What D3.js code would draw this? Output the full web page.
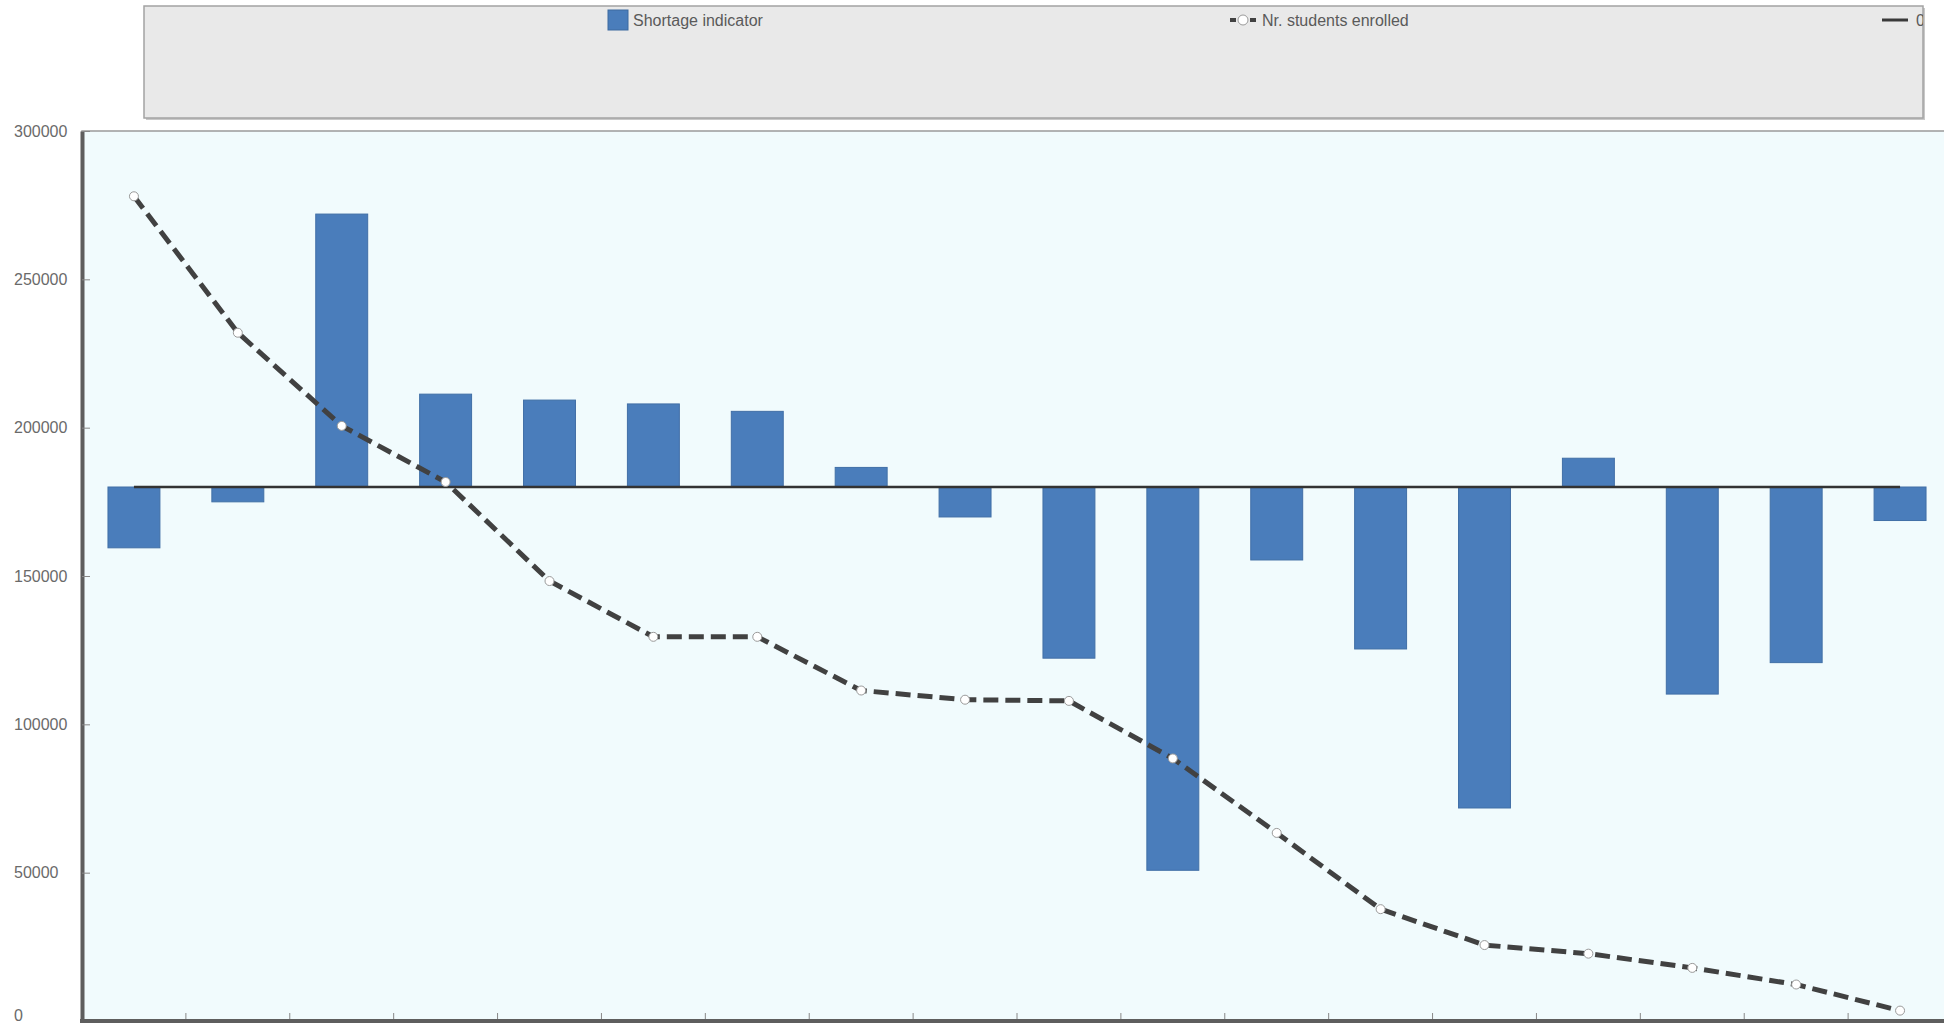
<!DOCTYPE html>
<html>
<head>
<meta charset="utf-8">
<script src="https://cdn.jsdelivr.net/npm/d3@7"></script>
<style>
  body { margin: 0; background: #fff; overflow: hidden; }
  svg { display: block; }
</style>
</head>
<body>
<svg id="chart"></svg>
<script>
// categories (no labels are shown on the x axis)
const categories = ["1", "2", "3", "4", "5", "6", "7", "8", "9", "10", "11", "12", "13", "14", "15", "16", "17", "18"];

// shortage indicator bars, drawn from the zero line (which sits at 180000 on the left axis)
const baseline = 180000;
const shortageEnds = [159500, 175000, 272000, 211300, 209300, 208000, 205500, 186600, 169900,
                      122300, 50800, 155400, 125400, 71800, 189700, 110200, 120800, 168700];

// Nr. students enrolled
const enrolled = [278000, 232000, 200600, 181700, 148300, 129500, 129500, 111400, 108300,
                  107900, 88500, 63400, 37700, 25600, 22700, 17900, 12300, 3500];

// third series "0"
const zeroSeries = [180000, 180000, 180000, 180000, 180000, 180000, 180000, 180000, 180000,
                    180000, 180000, 180000, 180000, 180000, 180000, 180000, 180000, 180000];

const yTicks = [0, 50000, 100000, 150000, 200000, 250000, 300000];
const legendLabels = ["Shortage indicator", "Nr. students enrolled", "0"];

const W = 1944, H = 1027;
const plot = { left: 82, top: 131, right: 1952, bottom: 1021 };

const svg = d3.select("#chart").attr("width", W).attr("height", H);

const x = d3.scaleBand()
    .domain(categories)
    .range([plot.left, plot.right])
    .paddingInner(0.5)
    .paddingOuter(0.25);

const y = d3.scaleLinear()
    .domain([0, 300000])
    .range([plot.bottom, plot.top]);

// plot background
svg.append("rect")
    .attr("x", plot.left).attr("y", plot.top)
    .attr("width", plot.right - plot.left).attr("height", plot.bottom - plot.top)
    .attr("fill", "#f1fbfd")
    .attr("stroke", "#9a9a9a")
    .attr("stroke-width", 1.5);

// bars
svg.append("g")
    .selectAll("rect")
    .data(shortageEnds)
    .join("rect")
    .attr("x", (d, i) => x(categories[i]))
    .attr("width", x.bandwidth())
    .attr("y", d => y(Math.max(d, baseline)))
    .attr("height", d => Math.abs(y(d) - y(baseline)))
    .attr("fill", "#4a7dbb")
    .attr("stroke", "#416fa6")
    .attr("stroke-width", 1);

// zero line series
const cx = (d, i) => x(categories[i]) + x.bandwidth() / 2;
svg.append("path")
    .datum(zeroSeries)
    .attr("fill", "none")
    .attr("stroke", "#333")
    .attr("stroke-width", 2.5)
    .attr("d", d3.line().x(cx).y(d => y(d)));

// enrolled, dashed line with markers
svg.append("path")
    .datum(enrolled)
    .attr("fill", "none")
    .attr("stroke", "#414141")
    .attr("stroke-width", 5)
    .attr("stroke-dasharray", "15,7")
    .attr("d", d3.line().x(cx).y(d => y(d)));

svg.append("g")
    .selectAll("circle")
    .data(enrolled)
    .join("circle")
    .attr("cx", cx)
    .attr("cy", d => y(d))
    .attr("r", 4.5)
    .attr("fill", "#fff")
    .attr("stroke", "#9a9a9a")
    .attr("stroke-width", 1);

// y axis, ticks pointing into the plot, labels left aligned
const yAxis = svg.append("g")
    .attr("transform", `translate(${plot.left},0)`)
    .call(d3.axisLeft(y).tickValues(yTicks).tickSizeInner(-8).tickSizeOuter(0).tickFormat(d3.format("d")));
yAxis.select(".domain").attr("stroke", "#5e5e5e").attr("stroke-width", 4);
yAxis.selectAll(".tick line").attr("stroke", "#888");
yAxis.selectAll(".tick text")
    .attr("x", 14 - plot.left)
    .attr("text-anchor", "start")
    .attr("fill", "#6a6a6a")
    .attr("dy", d => d === 0 ? "-0.05em" : "0.32em")
    .style("font-family", "'Liberation Sans', Arial, sans-serif")
    .style("font-size", "16px");

// x axis, ticks on the band boundaries
svg.append("g")
    .selectAll("line")
    .data(categories.slice(1))
    .join("line")
    .attr("x1", d => x(d) - x.step() * x.paddingInner() / 2)
    .attr("x2", d => x(d) - x.step() * x.paddingInner() / 2)
    .attr("y1", plot.bottom)
    .attr("y2", plot.bottom - 8)
    .attr("stroke", "#888");
svg.append("line")
    .attr("x1", plot.left - 2).attr("x2", plot.right)
    .attr("y1", plot.bottom).attr("y2", plot.bottom)
    .attr("stroke", "#5e5e5e").attr("stroke-width", 4);

// legend
const lg = { x: 144, y: 6, w: 1779, h: 112 };
svg.append("defs").append("clipPath").attr("id", "lgclip")
    .append("rect").attr("x", lg.x).attr("y", lg.y).attr("width", lg.w).attr("height", lg.h);
svg.append("rect")
    .attr("x", lg.x + 2).attr("y", lg.y + 2).attr("width", lg.w).attr("height", lg.h)
    .attr("fill", "#c8c8c8");
svg.append("rect")
    .attr("x", lg.x).attr("y", lg.y).attr("width", lg.w).attr("height", lg.h)
    .attr("fill", "#e9e9e9").attr("stroke", "#a3a3a3").attr("stroke-width", 1.5);

const legend = svg.append("g").attr("clip-path", "url(#lgclip)")
    .style("font-family", "'Liberation Sans Narrow', 'Arial Narrow', sans-serif")
    .style("font-size", "16px")
    .attr("fill", "#5a5a5a");

legend.append("rect")
    .attr("x", 608).attr("y", 10).attr("width", 20).attr("height", 20)
    .attr("fill", "#4a7dbb").attr("stroke", "#3d6a9f");
legend.append("text").attr("x", 633).attr("y", 26).text(legendLabels[0]);

legend.append("line")
    .attr("x1", 1230).attr("x2", 1258).attr("y1", 20).attr("y2", 20)
    .attr("stroke", "#414141").attr("stroke-width", 4).attr("stroke-dasharray", "6,4");
legend.append("circle")
    .attr("cx", 1243).attr("cy", 20).attr("r", 5)
    .attr("fill", "#fff").attr("stroke", "#9a9a9a");
legend.append("text").attr("x", 1262).attr("y", 26).text(legendLabels[1]);

legend.append("line")
    .attr("x1", 1882).attr("x2", 1908).attr("y1", 20).attr("y2", 20)
    .attr("stroke", "#3a3a3a").attr("stroke-width", 3);
legend.append("text").attr("x", 1916).attr("y", 26).text(legendLabels[2]);
</script>
</body>
</html>
